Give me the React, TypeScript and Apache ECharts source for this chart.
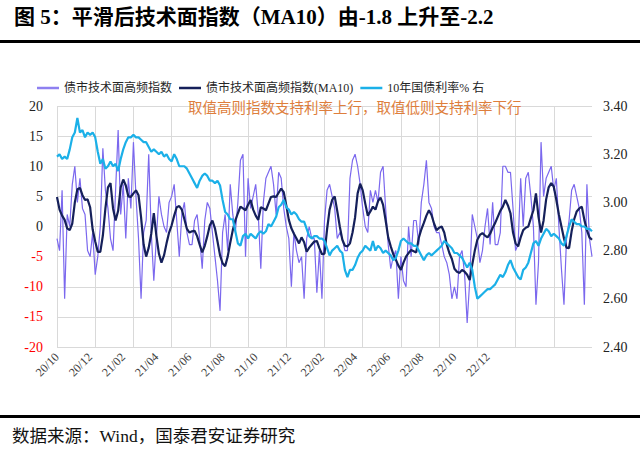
import React, { useEffect, useRef } from 'react';
import * as echarts from 'echarts';

// x-axis tick labels (yy/mm), one every LABEL_STEP observations
const tickLabels = ['20/10', '20/12', '21/02', '21/04', '21/06', '21/08', '21/10', '21/12', '22/02', '22/04', '22/06', '22/08', '22/10', '22/12'];
const LABEL_STEP = 13;
const GRID_STEP = 15;

// 债市技术面高频指数 (raw)
const techIndex = [
  -2, -4, 6, -12, 2, 0, 7, 10, 4, 8,
  3, 2, -4, -5, -1, -8, -5, 0, 13, 6,
  3, -2, -4, 6, 16, 2, 7, -2, 8, 3,
  14, 5, -2, -12, -1, 1, 12, -1, -9, -2,
  5, 2, 0, -1, 4, 5, 7, 1, -5, 2,
  4, -1, -3, -3, 1, 2, -2, -7, 1, 4,
  3, -1, -5, -9, -14, -1, 2, -4, 7, 2,
  -1, 4, 11, 12, -5, 8, 3, 5, 7, 2,
  -7, 4, 8, 9, 10, 7, 2, 9, 8, 3,
  0, -2, -10, -1, -4, -6, -5, -12, -2, 0,
  -2, -2, -11, -4, -12, 1, 6, 7, 5, 3,
  -2, -1, -2, -4, -4, 8, 11, 12, 10, 7,
  3, 0, -1, 6, 4, 6, 4, 9, 10, 3,
  -3, -7, -5, -4, -12, -5, -9, -10, 0, -5,
  1, 1, -3, 4, 7, 11, 4, 3, 0, -1,
  -1, -3, -5, -6, -8, -12, -10, -12, -5, -4,
  -8, -16, -9, 2, 0, -2, -6, -4, 0, 3,
  -3, 4, -3, -3, -1, 10, 10, 9, 9, 3,
  -4, -3, 8, 0, 8, 9, 5, 0, -13, -6,
  14, 5, 8, 9, 10, 6, 8, 0, -7, -13,
  -2, 1, 6, 7, 5, 3, -1, -13, 7, -2,
  -5,
];

// 债市技术面高频指数 (MA10)
const techIndexMA10 = [
  4.9, 2.8, 1.8, 1.1, -0.3, -0.6, 0.5, 4.0, 6.2, 6.4,
  5.2, 4.4, 4.5, 3.2, -0.5, -2.5, -4.2, -4.2, -1.5, 3.0,
  6.5, 7.2, 3.0, 1.0, 2.6, 6.5, 7.8, 6.8, 5.0, 4.9,
  5.5, 6.0, 5.2, 1.5, -3.0, -5.0, -3.5, -1.2, 2.2, -1.5,
  -4.5, -6.0, -4.8, -2.8, -1.0, 0.2, 1.8, 3.2, 3.4, 2.8,
  1.2, -0.4, -1.0, -0.8, -0.7, -1.6, -3.0, -4.3, -3.2, -1.6,
  0.2, 1.0, -0.3, -2.5, -4.8, -6.1, -6.6, -5.0, -2.7, -0.6,
  1.0, 2.2, 3.3, 3.0, 2.7, 3.6, 4.4, 2.8, 1.8, 1.1,
  3.2, 3.0, 2.7, 3.8, 4.9, 5.0, 4.9, 5.6, 6.3, 5.7,
  3.5, 1.1, -0.3, -1.2, -2.0, -2.8, -1.8, -2.6, -4.2, -3.5,
  -3.0, -2.5, -2.4, -3.6, -4.6, -4.5, -0.5, 2.8, 4.4, 5.0,
  2.6, 0.0, -2.2, -3.2, -3.3, -2.8, -1.0, 1.5, 5.5, 7.1,
  6.0, 3.8, 1.8, 2.5, 3.3, 2.8, 4.2, 4.8, 3.6, 1.0,
  -1.8, -3.3, -4.6, -5.5, -6.5, -7.2, -6.0, -5.0, -4.4, -3.9,
  -4.1, -4.3, -1.9, -0.5, 0.6, 1.8, 2.7, 1.9, 0.5, -0.6,
  -0.2, 0.0, -1.0, -3.0, -4.4, -5.4, -7.0, -7.5, -7.7, -7.2,
  -7.5, -8.0, -8.9, -6.3, -4.0, -2.2, -1.4, -1.1, -1.5, -1.8,
  -1.2, -0.2, 0.6, 1.6, 2.6, 3.3, 4.4, 3.5, 2.2, -1.0,
  -2.8, -3.3, -1.8, -0.6, -0.2, 0.0, 1.4, 2.7, 5.5, 1.6,
  -1.0, 1.0, 4.5, 6.5, 7.2, 6.6, 4.4, 2.0, 0.0, -2.0,
  -3.5, -3.6, -0.8, 1.2, 2.5, 3.0, 3.3, 1.1, -0.6, -1.8,
  -2.2,
];

// 10年国债利率 (%), right axis
const cgb10y = [
  3.19, 3.20, 3.18, 3.19, 3.18, 3.22, 3.27, 3.29, 3.35, 3.29,
  3.30, 3.27, 3.29, 3.28, 3.29, 3.27, 3.21, 3.16, 3.18, 3.14,
  3.15, 3.17, 3.15, 3.16, 3.13, 3.18, 3.22, 3.25, 3.27, 3.27,
  3.28, 3.27, 3.27, 3.26, 3.25, 3.25, 3.23, 3.21, 3.22, 3.21,
  3.20, 3.21, 3.19, 3.20, 3.18, 3.17, 3.20, 3.18, 3.15, 3.15,
  3.15, 3.14, 3.12, 3.10, 3.08, 3.06, 3.09, 3.11, 3.12, 3.11,
  3.09, 3.09, 3.08, 3.09, 3.07, 3.01, 2.96, 2.95, 2.93, 2.93,
  2.88, 2.83, 2.82, 2.86, 2.87, 2.85, 2.87, 2.86, 2.85, 2.87,
  2.88, 2.87, 2.88, 2.91, 2.90, 2.92, 2.94, 2.98, 2.99, 3.01,
  2.98, 2.97, 2.95, 2.96, 2.95, 2.93, 2.92, 2.92, 2.89, 2.86,
  2.85, 2.86, 2.86, 2.85, 2.85, 2.84, 2.81, 2.78, 2.80, 2.81,
  2.82, 2.80, 2.79, 2.72, 2.69, 2.72, 2.72, 2.74, 2.77, 2.79,
  2.80, 2.82, 2.81, 2.80, 2.84, 2.80, 2.82, 2.81, 2.79, 2.80,
  2.79, 2.78, 2.76, 2.77, 2.80, 2.84, 2.85, 2.84, 2.83, 2.83,
  2.82, 2.82, 2.80, 2.78, 2.76, 2.78, 2.79, 2.78, 2.79, 2.80,
  2.81, 2.82, 2.84, 2.83, 2.82, 2.81, 2.79, 2.79, 2.78, 2.77,
  2.75, 2.73, 2.75, 2.72, 2.65, 2.60, 2.61, 2.62, 2.63, 2.64,
  2.64, 2.65, 2.66, 2.68, 2.70, 2.69, 2.71, 2.74, 2.76, 2.73,
  2.71, 2.69, 2.68, 2.72, 2.73, 2.75, 2.79, 2.83, 2.84, 2.82,
  2.85, 2.87, 2.89, 2.88, 2.86, 2.87, 2.86, 2.85, 2.83, 2.82,
  2.86, 2.90, 2.93, 2.92, 2.91, 2.91, 2.90, 2.90, 2.89, 2.89,
  2.88,
];

const SERIF = "'Liberation Serif', 'Noto Sans CJK SC', serif";
const CJK = "'Liberation Serif', 'Noto Sans CJK SC', sans-serif";

const TITLE = '图 5：平滑后技术面指数（MA10）由-1.8 上升至-2.2';
const NOTE = '取值高则指数支持利率上行，取值低则支持利率下行';
const SOURCE = '数据来源：Wind，国泰君安证券研究';

export default function App() {
  const ref = useRef<HTMLDivElement>(null);

  useEffect(() => {
    if (!ref.current) return;
    const chart = echarts.init(ref.current, null, { renderer: 'svg' });
    const n = techIndex.length;
    const categories = techIndex.map((_, i) =>
      i % LABEL_STEP === 0 && i / LABEL_STEP < tickLabels.length ? tickLabels[i / LABEL_STEP] : ''
    );

    chart.setOption({
      animation: false,
      backgroundColor: '#ffffff',
      textStyle: { fontFamily: SERIF },
      grid: { left: 57, right: 48, top: 106, bottom: 108, containLabel: false },
      legend: {
        left: 32,
        top: 77,
        icon: 'rect',
        itemWidth: 22,
        itemHeight: 2.5,
        itemGap: 7,
        textStyle: { fontFamily: CJK, fontSize: 12, color: '#262626' },
        data: ['债市技术面高频指数', '债市技术面高频指数(MA10)', '10年国债利率% 右'],
      },
      graphic: [
        {
          type: 'text',
          left: 14,
          top: 6,
          style: { text: TITLE, font: `bold 21px ${SERIF}`, fill: '#000000' },
        },
        { type: 'rect', shape: { x: 0, y: 40, width: 640, height: 3 }, style: { fill: '#000000' } },
        {
          type: 'text',
          left: 188,
          top: 101,
          z: 10,
          style: { text: NOTE, font: `14.5px ${CJK}`, fill: '#DE7E3C' },
        },
        { type: 'rect', shape: { x: 0, y: 415, width: 640, height: 3 }, style: { fill: '#000000' } },
        {
          type: 'text',
          left: 12,
          top: 427,
          style: { text: SOURCE, font: `17.5px ${SERIF}`, fill: '#111111' },
        },
      ],
      xAxis: {
        type: 'category',
        data: categories,
        boundaryGap: false,
        axisLine: { show: false },
        axisTick: { show: false },
        axisLabel: {
          interval: 0,
          rotate: 45,
          margin: 8,
          fontFamily: SERIF,
          fontSize: 12,
          color: '#404040',
        },
        splitLine: {
          show: true,
          interval: (i: number) => i % GRID_STEP === 0 && i < n - 1,
          lineStyle: { color: '#D9D9D9', width: 1 },
        },
      },
      yAxis: [
        {
          type: 'value',
          min: -20,
          max: 20,
          interval: 5,
          axisLine: { show: false },
          axisTick: { show: false },
          axisLabel: {
            margin: 14,
            fontFamily: SERIF,
            fontSize: 14,
            color: (v: any) => (Number(v) < 0 ? '#FF0000' : '#222222'),
          },
          splitLine: { show: true, lineStyle: { color: '#D9D9D9', width: 1 } },
        },
        {
          type: 'value',
          position: 'right',
          min: 2.4,
          max: 3.4,
          interval: 0.2,
          axisLine: { show: false },
          axisTick: { show: false },
          splitLine: { show: false },
          axisLabel: {
            margin: 11,
            fontFamily: SERIF,
            fontSize: 14,
            color: '#222222',
            formatter: (v: number) => v.toFixed(2),
          },
        },
      ],
      series: [
        {
          name: '债市技术面高频指数',
          type: 'line',
          yAxisIndex: 0,
          data: techIndex,
          symbol: 'none',
          lineStyle: { color: '#7B68EE', width: 1.2 },
          itemStyle: { color: '#8E80F0' },
        },
        {
          name: '债市技术面高频指数(MA10)',
          type: 'line',
          yAxisIndex: 0,
          data: techIndexMA10,
          symbol: 'none',
          lineStyle: { color: '#15205A', width: 2.2 },
          itemStyle: { color: '#15205A' },
        },
        {
          name: '10年国债利率% 右',
          type: 'line',
          yAxisIndex: 1,
          data: cgb10y,
          symbol: 'none',
          lineStyle: { color: '#1BB0E8', width: 2.2 },
          itemStyle: { color: '#1BB0E8' },
        },
      ],
    });

    return () => chart.dispose();
  }, []);

  return (
    <div
      ref={ref}
      style={{ position: 'fixed', left: 0, top: 0, width: 640, height: 455, background: '#ffffff' }}
    />
  );
}
